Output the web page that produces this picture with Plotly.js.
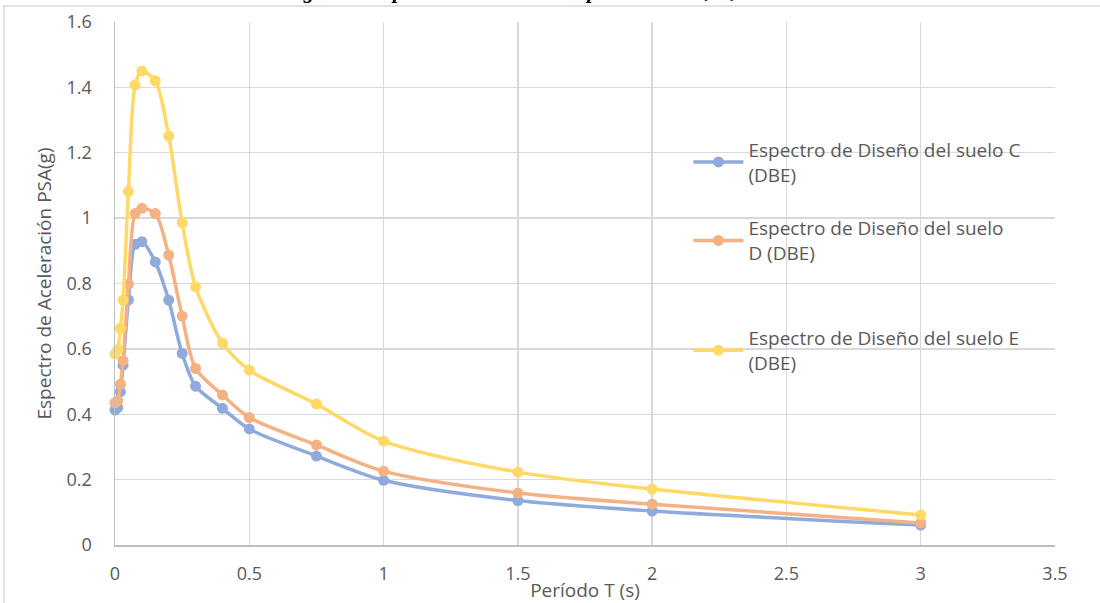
<!DOCTYPE html>
<html>
<head>
<meta charset="utf-8">
<script src="https://cdn.plot.ly/plotly-3.0.1.min.js"></script>
<style>html,body{margin:0;padding:0;background:#fff;}#chart{width:1100px;height:603px;}</style>
</head>
<body>
<div id="chart"></div>
<script>
const periods = [0, 0.01, 0.02, 0.03, 0.05, 0.075, 0.1, 0.15, 0.2, 0.25, 0.3, 0.4, 0.5, 0.75, 1, 1.5, 2, 3];
const sueloC = [0.413, 0.42, 0.469, 0.55, 0.75, 0.92, 0.928, 0.866, 0.749, 0.586, 0.486, 0.418, 0.355, 0.272, 0.198, 0.136, 0.104, 0.061];
const sueloD = [0.435, 0.442, 0.492, 0.564, 0.798, 1.014, 1.03, 1.014, 0.887, 0.70, 0.54, 0.459, 0.39, 0.306, 0.226, 0.159, 0.125, 0.067];
const sueloE = [0.585, 0.598, 0.663, 0.749, 1.082, 1.407, 1.45, 1.42, 1.251, 0.986, 0.79, 0.618, 0.535, 0.431, 0.318, 0.223, 0.171, 0.092];
const seriesNames = [
  "Espectro de Diseño del suelo C<br>(DBE)",
  "Espectro de Diseño del suelo<br>D (DBE)",
  "Espectro de Diseño del suelo E<br>(DBE)"
];
const seriesColors = ["#8FAADC", "#F4B183", "#FFD966"];
const xTitle = "Período T (s)";
const yTitle = "Espectro de Aceleración PSA(g)";
const caption = "Figura 4. Espectros elásticos DBE para suelos C, D, E";

const font = "Open Sans, Noto Sans, sans-serif";
const txt = "#595959";
const allY = [sueloC, sueloD, sueloE];
const legendIds = ["legend", "legend2", "legend3"];
const traces = allY.map((ys, i) => ({
  x: periods, y: ys, type: "scatter", mode: "lines+markers",
  name: seriesNames[i], legend: legendIds[i],
  line: {color: seriesColors[i], width: 3.5, shape: "spline", smoothing: 0.8},
  marker: {color: seriesColors[i], size: 11},
  cliponaxis: false
}));

const legBase = {
  xanchor: "left", yanchor: "top", bgcolor: "rgba(0,0,0,0)",
  font: {family: font, size: 19, color: txt}, itemwidth: 50
};

const layout = {
  width: 1100, height: 603,
  margin: {l: 115, r: 45, t: 22, b: 58},
  paper_bgcolor: "#fff", plot_bgcolor: "#fff",
  showlegend: true,
  legend: Object.assign({}, legBase, {x: 0.61, y: 0.792}),
  legend2: Object.assign({}, legBase, {x: 0.61, y: 0.642}),
  legend3: Object.assign({}, legBase, {x: 0.61, y: 0.432}),
  xaxis: {
    range: [0, 3.5], dtick: 0.5, tick0: 0,
    showgrid: true, gridcolor: "#d9d9d9", gridwidth: 1.3,
    showline: true, linecolor: "#bfbfbf", linewidth: 1.5,
    zeroline: false, ticks: "", ticklabelstandoff: 12,
    tickfont: {family: font, size: 18, color: txt},
    title: {text: xTitle, font: {family: font, size: 19, color: txt}, standoff: 0}
  },
  yaxis: {
    range: [0, 1.6], dtick: 0.2, tick0: 0,
    showgrid: true, gridcolor: "#d9d9d9", gridwidth: 1.3,
    showline: true, linecolor: "#bfbfbf", linewidth: 1.5,
    zeroline: false, ticks: "", ticklabelstandoff: 18,
    tickfont: {family: font, size: 18, color: txt},
    title: {text: yTitle, font: {family: font, size: 19, color: txt}, standoff: 10}
  },
  shapes: [{
    type: "rect", xref: "paper", yref: "paper",
    x0: -0.118, x1: 1.2, y0: -0.3, y1: 1.0306,
    line: {color: "#d9d9d9", width: 1.5}, fillcolor: "rgba(0,0,0,0)", layer: "below"
  }],
  annotations: [{
    text: caption, xref: "paper", yref: "paper", x: 0.43, y: 1.033,
    xanchor: "center", yanchor: "bottom", showarrow: false,
    font: {family: "Liberation Serif, serif", size: 21, color: "#000", weight: "bold", style: "italic"}
  }]
};

Plotly.newPlot("chart", traces, layout, {staticPlot: true, displayModeBar: false});
</script>
</body>
</html>
